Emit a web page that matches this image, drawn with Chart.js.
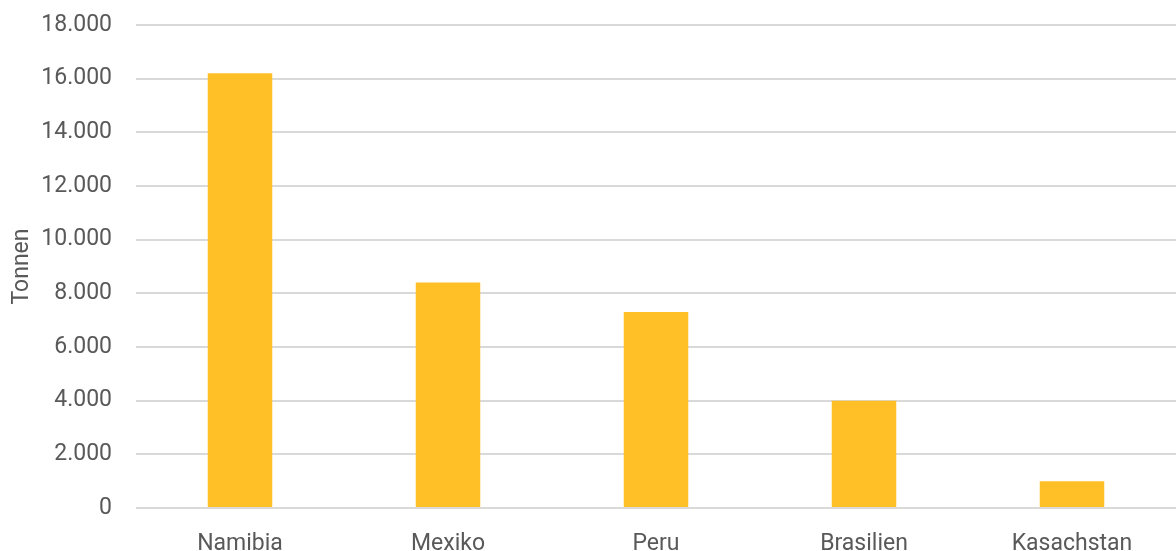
<!DOCTYPE html>
<html>
<head>
<meta charset="utf-8">
<script src="https://cdn.jsdelivr.net/npm/chart.js@4"></script>
<style>
  html, body { margin: 0; padding: 0; background: #fff; }
  #wrap { width: 1176px; height: 551px; }
</style>
</head>
<body>
<div id="wrap"><canvas id="barChart" width="1176" height="551"></canvas></div>
<script>
const countries = ['Namibia', 'Mexiko', 'Peru', 'Brasilien', 'Kasachstan'];
const tonnes = [16200, 8400, 7300, 4000, 1000];
const yMax = 18000;
const yStep = 2000;

const fmt = v => v.toLocaleString('de-DE');
const textColor = '#595959';
const fontFamily = "'Roboto', 'DejaVu Sans', sans-serif";

new Chart(document.querySelector('#barChart'), {
    type: 'bar',
    data: {
        labels: countries,
        datasets: [{
            label: 'Tonnen',
            data: tonnes,
            backgroundColor: '#FFBF27',
            categoryPercentage: 1,
            barPercentage: 0.31
        }]
    },
    options: {
        responsive: false,
        animation: false,
        // plot area runs a little past the right edge, like the original
        layout: { padding: { left: 0, right: -10, top: 0, bottom: 0 } },
        plugins: {
            legend: { display: false },
            tooltip: { enabled: false }
        },
        scales: {
            x: {
                grid: { display: false, drawTicks: false },
                border: { display: false },
                ticks: { color: textColor, font: { family: fontFamily, size: 23, lineHeight: 1.1 }, padding: 24 },
                afterFit: scale => {
                    scale.height = 43;
                    scale.paddingLeft = 0;
                    scale.paddingRight = -10;
                }
            },
            y: {
                min: 0,
                max: yMax,
                ticks: {
                    stepSize: yStep,
                    color: textColor,
                    font: { family: fontFamily, size: 23 },
                    padding: 24,
                    callback: v => fmt(v)
                },
                grid: { color: '#d9d9d9', lineWidth: 2, drawTicks: false },
                border: { display: false },
                title: {
                    display: true,
                    text: 'Tonnen',
                    color: textColor,
                    font: { family: fontFamily, size: 23 },
                    padding: { top: 8, bottom: 8 }
                },
                // fixed axis box so the plot starts where the original does
                afterFit: scale => {
                    scale.width = 136;
                    scale.paddingTop = 25;
                }
            }
        }
    }
});
</script>
</body>
</html>
